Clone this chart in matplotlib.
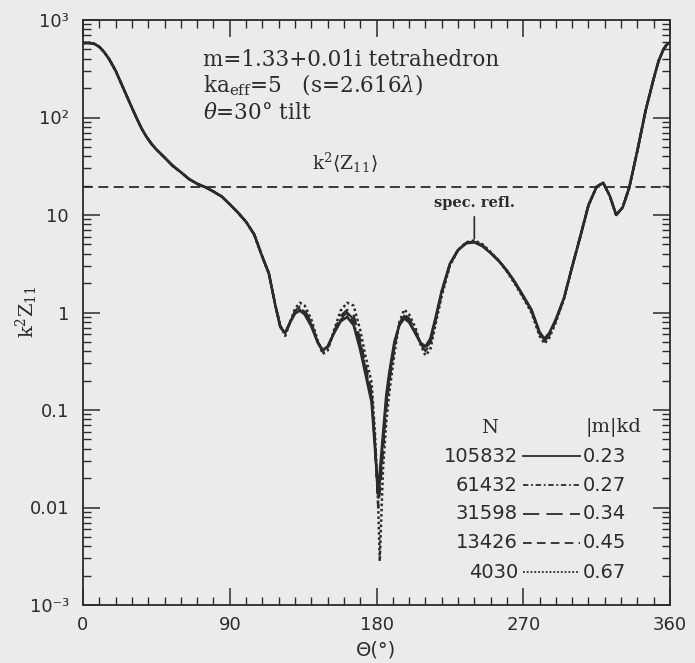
import matplotlib
matplotlib.use('Agg')
import matplotlib.pyplot as plt
from matplotlib.ticker import MultipleLocator, LogLocator, NullFormatter

plt.rcParams['mathtext.fontset'] = 'dejavuserif'

# scattering angle Theta (deg); forward part, shared by all N
theta_head = [0, 4, 7, 10, 13, 16, 20, 25, 30, 33, 36, 39, 42, 45, 50, 55, 60, 65,
              70, 75, 80, 85, 90, 95, 100, 105, 110]
z_head = [581, 581, 569, 531, 468, 398, 302, 195, 126, 97.7, 76.7, 63.1, 53.7,
          47.0, 38.9, 32.0, 27.5, 23.4, 20.9, 19.3, 17.4, 15.5, 12.9, 10.6, 8.51,
          6.31, 3.72]

# middle part, where the five resolutions differ
theta_mid = [114, 118, 121, 124, 127, 130, 133, 136, 140, 144, 147, 150, 154, 158,
             162, 166, 170, 173, 177, 179, 181, 182, 184, 186, 188, 191, 194, 197,
             200, 204, 207, 210, 213, 216, 220, 225, 230, 235, 240, 245, 250, 255,
             260, 265, 270, 275, 280, 283, 286, 290, 295]
z_105832 = [2.51, 1.175, 0.708, 0.617, 0.794, 0.977, 1.047, 0.955, 0.724, 0.490,
            0.412, 0.447, 0.617, 0.813, 0.900, 0.741, 0.417, 0.245, 0.120, 0.0427,
            0.0141, 0.0224, 0.0562, 0.141, 0.251, 0.501, 0.741, 0.871, 0.794, 0.603,
            0.490, 0.447, 0.537, 0.851, 1.66, 3.16, 4.37, 5.13, 5.25, 4.79, 4.07,
            3.39, 2.69, 2.04, 1.48, 1.07, 0.631, 0.537, 0.617, 0.851, 1.41]
z_61432 = [2.51, 1.175, 0.713, 0.610, 0.794, 0.994, 1.076, 0.985, 0.742, 0.493,
           0.406, 0.441, 0.623, 0.844, 0.946, 0.794, 0.447, 0.260, 0.129, 0.0447,
           0.0129, 0.0200, 0.0501, 0.129, 0.234, 0.481, 0.749, 0.900, 0.817, 0.615,
           0.486, 0.430, 0.517, 0.831, 1.632, 3.14, 4.37, 5.15, 5.28, 4.82, 4.09,
           3.39, 2.68, 2.03, 1.469, 1.061, 0.622, 0.528, 0.606, 0.842, 1.408]
z_31598 = [2.51, 1.175, 0.718, 0.604, 0.794, 1.012, 1.107, 1.016, 0.760, 0.497,
           0.401, 0.435, 0.630, 0.877, 0.998, 0.851, 0.479, 0.275, 0.138, 0.0468,
           0.0117, 0.0178, 0.0447, 0.117, 0.219, 0.461, 0.757, 0.927, 0.839, 0.628,
           0.483, 0.414, 0.498, 0.811, 1.603, 3.12, 4.37, 5.16, 5.32, 4.85, 4.10,
           3.39, 2.67, 2.01, 1.459, 1.050, 0.614, 0.519, 0.596, 0.834, 1.403]
z_13426 = [2.51, 1.175, 0.724, 0.596, 0.794, 1.035, 1.148, 1.059, 0.785, 0.501,
           0.394, 0.427, 0.638, 0.923, 1.064, 0.933, 0.525, 0.302, 0.151, 0.0501,
           0.0100, 0.0141, 0.0380, 0.104, 0.200, 0.437, 0.767, 0.966, 0.871, 0.646,
           0.479, 0.403, 0.473, 0.785, 1.567, 3.09, 4.37, 5.19, 5.37, 4.90, 4.12,
           3.39, 2.66, 2.00, 1.445, 1.035, 0.603, 0.507, 0.582, 0.822, 1.40]
z_4030 = [2.51, 1.175, 0.741, 0.575, 0.794, 1.096, 1.259, 1.175, 0.851, 0.513,
          0.376, 0.407, 0.661, 1.047, 1.259, 1.175, 0.661, 0.372, 0.191, 0.0603,
          0.0112, 0.00282, 0.0251, 0.0759, 0.158, 0.380, 0.794, 1.072, 0.955, 0.692,
          0.468, 0.363, 0.417, 0.724, 1.479, 3.02, 4.37, 5.25, 5.50, 5.01, 4.17,
          3.39, 2.63, 1.95, 1.41, 1.00, 0.575, 0.479, 0.550, 0.794, 1.38]

# backward part, shared by all N
theta_tail = [300, 305, 310, 315, 319, 323, 327, 331, 335, 340, 345, 350, 353,
              356, 358, 360]
z_tail = [2.95, 6.03, 12.6, 19.5, 21.4, 15.8, 10.0, 12.0, 19.1, 45.7, 117, 251,
          380, 500, 560, 589]

N_list = ['105832', '61432', '31598', '13426', '4030']
kd_list = ['0.23', '0.27', '0.34', '0.45', '0.67']
z_series = [z_105832, z_61432, z_31598, z_13426, z_4030]
z_avg = 19.4        # k^2 <Z11>, orientational average
spec_refl = 240     # specular reflection direction (deg)

ytick_vals = [1e-3, 1e-2, 1e-1, 1, 10, 100, 1000]
ytick_labels = ['10\u207b\u00b3', '0.01', '0.1', '1', '10', '10\u00b2', '10\u00b3']

bg = '#ebebeb'
ink = '#2b2b2b'
styles = ['-', (0, (3, 1.5, 1, 1.5)), (0, (9, 4)), (0, (4.8, 2.9)), (0, (1, 1.1))]
widths = [1.9, 1.6, 1.6, 1.6, 1.8]

fig = plt.figure(figsize=(6.95, 6.63), dpi=100, facecolor=bg)
ax = fig.add_axes([83/695, 1 - 605/663, 587/695, 585/663])
ax.set_facecolor(bg)

for z, ls, lw in zip(z_series, styles, widths):
    ax.plot(theta_head + theta_mid + theta_tail, z_head + z + z_tail,
            color=ink, lw=lw, linestyle=ls)

ax.axhline(z_avg, color=ink, lw=1.3, linestyle=(0, (5.5, 3)))

ax.set_yscale('log')
ax.set_xlim(0, 360)
ax.set_ylim(1e-3, 1e3)

ax.xaxis.set_major_locator(MultipleLocator(90))
ax.xaxis.set_minor_locator(MultipleLocator(10))
ax.set_yticks(ytick_vals)
ax.set_yticklabels(ytick_labels)
ax.yaxis.set_minor_locator(LogLocator(base=10, subs=range(2, 10), numticks=20))
ax.yaxis.set_minor_formatter(NullFormatter())
ax.tick_params(which='both', direction='in', top=True, right=True, colors=ink,
               labelsize=13, labelcolor=ink)
ax.tick_params(which='major', length=12, width=1.1)
ax.tick_params(which='minor', length=6, width=1.0)
ax.tick_params(axis='y', pad=10)
ax.tick_params(axis='x', pad=8)
for sp in ax.spines.values():
    sp.set_linewidth(1.3)
    sp.set_color(ink)

serif = 'DejaVu Serif'
ax.text(0.204, 0.932, 'm=1.33+0.01i tetrahedron', transform=ax.transAxes,
        fontsize=15.5, family=serif, color=ink, va='center')
ax.text(0.204, 0.889, r'ka$_{\mathrm{eff}}$=5   (s=2.616$\lambda$)',
        transform=ax.transAxes, fontsize=15.5, family=serif, color=ink, va='center')
ax.text(0.204, 0.841, r'$\theta$=30° tilt', transform=ax.transAxes,
        fontsize=15.5, family=serif, color=ink, va='center')
ax.text(0.390, 0.756, r'k$^2\langle$Z$_{11}\rangle$', transform=ax.transAxes,
        fontsize=13.5, family=serif, color=ink, va='center')

ax.annotate('spec. refl.', xy=(spec_refl, 5.7), xytext=(spec_refl, 11.3),
            ha='center', va='bottom', fontsize=10.5, family=serif,
            fontweight='bold', color=ink,
            arrowprops=dict(arrowstyle='-', lw=1.2, color=ink, shrinkA=3, shrinkB=0))

# legend: N -- line -- |m|kd
ax.text(0.693, 0.303, 'N', transform=ax.transAxes, fontsize=14, family=serif,
        color=ink, ha='center', va='center')
ax.text(0.903, 0.303, '|m|kd', transform=ax.transAxes, fontsize=14, family=serif,
        color=ink, ha='center', va='center')
row_y = [0.2547, 0.2051, 0.1556, 0.1060, 0.0564]
for n, kd, ls, yy in zip(N_list, kd_list, styles, row_y):
    ax.text(0.741, yy, n, transform=ax.transAxes, fontsize=14, color=ink,
            ha='right', va='center')
    ax.plot([0.750, 0.847], [yy, yy], transform=ax.transAxes, color=ink,
            lw=1.3, linestyle=ls)
    ax.text(0.852, yy, kd, transform=ax.transAxes, fontsize=14, color=ink,
            ha='left', va='center')

fig.text(27/695, 1 - 312/663, r'k$^2$Z$_{11}$', rotation=90, fontsize=14,
         family=serif, color=ink, ha='center', va='center')
fig.text(376/695, 1 - 650/663, '\u0398(\u00b0)', fontsize=14, color=ink,
         ha='center', va='center')

fig.savefig('out.png', dpi=100, facecolor=bg)
